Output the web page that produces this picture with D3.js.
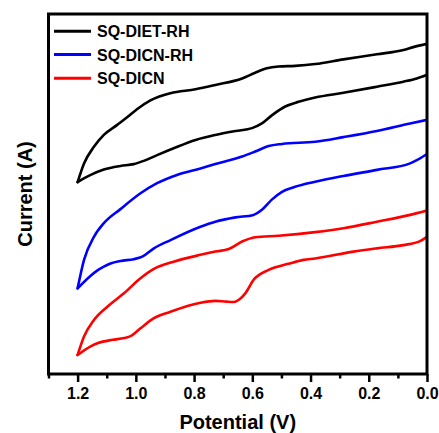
<!DOCTYPE html>
<html>
<head>
<meta charset="utf-8">
<script src="https://cdn.jsdelivr.net/npm/d3@7"></script>
<style>
  html, body { margin: 0; padding: 0; background: #fff; }
  svg { display: block; }
  text { font-family: "Liberation Sans", Arial, sans-serif; font-weight: bold; fill: #000; }
</style>
</head>
<body>
<script>
// ---- Data (potential in V, current in arbitrary units) ----
const seriesNames = ["SQ-DIET-RH", "SQ-DICN-RH", "SQ-DICN"];
const seriesColors = ["#000000", "#0000ff", "#ff0000"];

const dietUpper = [[1.200,5.33],[1.178,5.85],[1.144,6.31],[1.110,6.64],[1.064,6.92],[1.030,7.13],[0.995,7.36],[0.950,7.60],[0.881,7.80],[0.795,7.91],[0.727,8.03],[0.635,8.21],[0.590,8.37],[0.550,8.49],[0.510,8.54],[0.453,8.56],[0.384,8.61],[0.287,8.74],[0.172,8.88],[0.081,9.00],[0.047,9.08],[0.000,9.17]];
const dietLower = [[1.200,5.33],[1.155,5.53],[1.110,5.68],[1.053,5.78],[1.007,5.83],[0.973,5.92],[0.927,6.08],[0.870,6.27],[0.795,6.50],[0.727,6.64],[0.658,6.75],[0.601,6.83],[0.567,6.96],[0.532,7.19],[0.487,7.43],[0.441,7.56],[0.384,7.68],[0.287,7.81],[0.172,7.98],[0.081,8.12],[0.035,8.21],[0.000,8.31]];

const dicnRhUpper = [[1.200,2.38],[1.178,3.17],[1.144,3.81],[1.110,4.19],[1.053,4.58],[0.984,5.02],[0.927,5.30],[0.859,5.53],[0.778,5.71],[0.727,5.83],[0.635,6.04],[0.590,6.18],[0.544,6.33],[0.498,6.39],[0.384,6.45],[0.287,6.58],[0.172,6.75],[0.058,6.96],[0.000,7.06]];
const dicnRhLower = [[1.200,2.38],[1.155,2.73],[1.133,2.87],[1.110,2.98],[1.087,3.07],[1.053,3.14],[1.007,3.19],[0.978,3.26],[0.938,3.49],[0.881,3.72],[0.778,4.09],[0.727,4.23],[0.658,4.35],[0.596,4.42],[0.567,4.56],[0.532,4.85],[0.498,5.06],[0.453,5.20],[0.384,5.34],[0.287,5.50],[0.172,5.67],[0.058,5.85],[0.035,5.94],[0.000,6.11]];

const dicnUpper = [[1.200,0.53],[1.178,1.04],[1.144,1.50],[1.098,1.87],[1.041,2.24],[0.984,2.66],[0.938,2.92],[0.870,3.12],[0.778,3.31],[0.727,3.40],[0.681,3.47],[0.635,3.68],[0.590,3.80],[0.510,3.84],[0.384,3.94],[0.287,4.05],[0.172,4.23],[0.058,4.42],[0.000,4.54]];
const dicnLower = [[1.200,0.53],[1.155,0.77],[1.130,0.86],[1.080,0.95],[1.040,1.00],[1.018,1.05],[0.984,1.27],[0.938,1.55],[0.881,1.73],[0.778,1.98],[0.727,2.03],[0.690,2.01],[0.664,2.00],[0.645,2.07],[0.624,2.24],[0.596,2.61],[0.544,2.89],[0.476,3.06],[0.424,3.17],[0.384,3.21],[0.253,3.40],[0.172,3.49],[0.081,3.58],[0.024,3.69],[0.000,3.81]];

const majorTicks = [1.2, 1.0, 0.8, 0.6, 0.4, 0.2, 0.0];
const minorTicks = [1.3, 1.1, 0.9, 0.7, 0.5, 0.3, 0.1];
const xDomain = [1.3, 0.0];
const yDomain = [0, 10];

// ---- Layout ----
const W = 439, H = 433;
const L = 48.5, R = 427, T = 14, B = 374;

const svg = d3.select("body").append("svg").attr("width", W).attr("height", H);

const x = d3.scaleLinear().domain(xDomain).range([L, R]);
const y = d3.scaleLinear().domain(yDomain).range([B, T]);

svg.append("defs").append("clipPath").attr("id", "clip")
  .append("rect").attr("x", L).attr("y", T).attr("width", R - L).attr("height", B - T);

const line = d3.line()
  .x(d => x(d[0])).y(d => y(d[1]))
  .curve(d3.curveMonotoneX);

const loops = [[dietUpper, dietLower], [dicnRhUpper, dicnRhLower], [dicnUpper, dicnLower]];
const g = svg.append("g").attr("clip-path", "url(#clip)");
loops.forEach((lp, i) => {
  lp.forEach(branch => {
    g.append("path").attr("d", line(branch))
      .attr("fill", "none").attr("stroke", seriesColors[i])
      .attr("stroke-width", 2.6).attr("stroke-linejoin", "round").attr("stroke-linecap", "round");
  });
});

// ---- Axes ----
const xAxis = d3.axisBottom(x).tickValues(majorTicks).tickSize(8).tickPadding(6)
  .tickFormat(d3.format(".1f"));
const xa = svg.append("g").attr("transform", `translate(0,${B})`).call(xAxis);
xa.select(".domain").remove();
xa.selectAll(".tick line").attr("stroke", "#000").attr("stroke-width", 2.5);
xa.selectAll(".tick text").style("font-size", "16px").style("font-weight", "bold")
  .style("font-family", '"Liberation Sans", Arial, sans-serif').attr("fill", "#000");

const xMinor = d3.axisBottom(x).tickValues(minorTicks).tickSize(4.5).tickFormat("");
const xm = svg.append("g").attr("transform", `translate(0,${B})`).call(xMinor);
xm.select(".domain").remove();
xm.selectAll(".tick line").attr("stroke", "#000").attr("stroke-width", 2.5);

// Frame
svg.append("rect").attr("x", L).attr("y", T).attr("width", R - L).attr("height", B - T)
  .attr("fill", "none").attr("stroke", "#000").attr("stroke-width", 3);

// Axis titles
svg.append("text").attr("x", (L + R) / 2).attr("y", 429).attr("text-anchor", "middle")
  .style("font-size", "20px").text("Potential (V)");
svg.append("text").attr("transform", `translate(32,${(T + B) / 2}) rotate(-90)`)
  .attr("text-anchor", "middle").style("font-size", "20px").text("Current (A)");

// Legend
const legendY = [31.3, 54.5, 78.3];
seriesNames.forEach((n, i) => {
  svg.append("line").attr("x1", 54).attr("x2", 91).attr("y1", legendY[i]).attr("y2", legendY[i])
    .attr("stroke", seriesColors[i]).attr("stroke-width", 3);
  svg.append("text").attr("x", 97).attr("y", legendY[i] + 6).style("font-size", "16px").text(n);
});
</script>
</body>
</html>
